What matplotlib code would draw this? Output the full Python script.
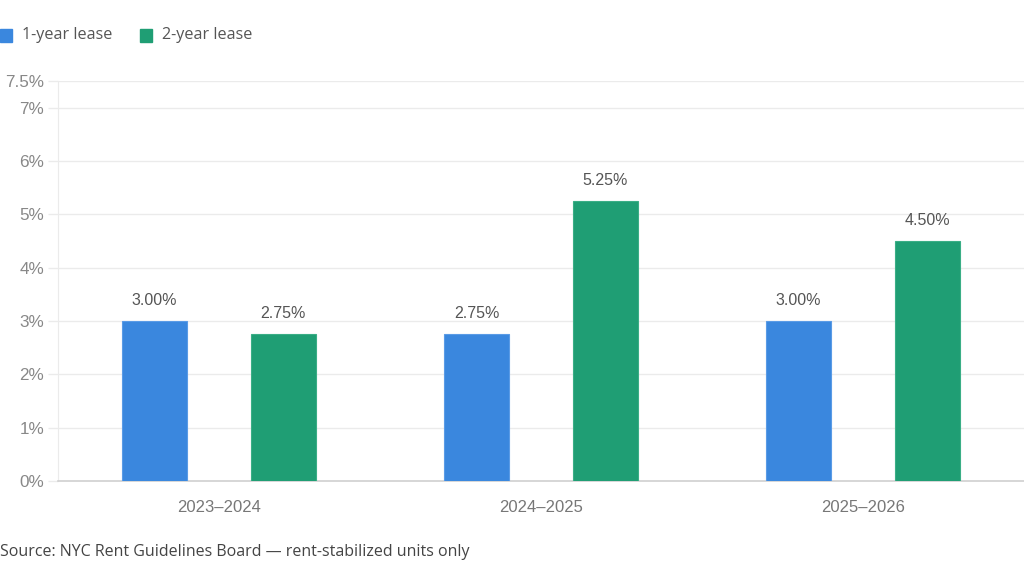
import matplotlib.pyplot as plt
import numpy as np

periods = ['2023–2024', '2024–2025', '2025–2026']
one_year = [3.00, 2.75, 3.00]
two_year = [2.75, 5.25, 4.50]
y_ticks = [0, 1, 2, 3, 4, 5, 6, 7, 7.5]
y_labels = ['0%', '1%', '2%', '3%', '4%', '5%', '6%', '7%', '7.5%']

blue = '#3a87de'
green = '#1f9e74'

fig = plt.figure(figsize=(10.24, 5.85), dpi=100)
ax = fig.add_axes([58 / 1024, 1 - 481 / 585, 1 - 58 / 1024, 400 / 585])

x = np.arange(len(periods))
w = 0.2
b1 = ax.bar(x - 0.2, one_year, w, color=blue, edgecolor='#5a9be6', linewidth=0.8, zorder=3)
b2 = ax.bar(x + 0.2, two_year, w, color=green, edgecolor='#3aae86', linewidth=0.8, zorder=3)

for bars in (b1, b2):
    for rect in bars:
        h = rect.get_height()
        ax.text(rect.get_x() + rect.get_width() / 2, h + 0.25, f'{h:.2f}%',
                ha='center', va='bottom', fontsize=11.5, color='#555555',
                family='Liberation Sans')

ax.set_xlim(-0.5, 2.5)
ax.set_ylim(0, 7.5)
ax.set_yticks(y_ticks)
ax.set_yticklabels(y_labels, family='Liberation Sans', fontsize=12.3, color='#888888')
ax.set_xticks(x)
ax.set_xticklabels(periods, family='Liberation Sans', fontsize=12, color='#777777')
ax.tick_params(axis='y', length=7, color='#ebebeb', width=1, pad=3)
ax.tick_params(axis='x', length=0, pad=14)
ax.grid(axis='y', color='#ebebeb', linewidth=1, zorder=0)
for s in ['top', 'right']:
    ax.spines[s].set_visible(False)
ax.spines['left'].set_color('#ebebeb')
ax.spines['bottom'].set_color('#d0d0d0')
ax.spines['bottom'].set_linewidth(1.2)

# legend
fig.patches.append(plt.Rectangle((0 / 1024, 1 - 42 / 585), 12 / 1024, 13 / 585,
                                 transform=fig.transFigure, color=blue, figure=fig))
fig.text(22 / 1024, 1 - 35 / 585, '1-year lease', va='center', fontsize=11.6,
         color='#555555', family='Open Sans')
fig.patches.append(plt.Rectangle((140 / 1024, 1 - 42 / 585), 12 / 1024, 13 / 585,
                                 transform=fig.transFigure, color=green, figure=fig))
fig.text(162 / 1024, 1 - 35 / 585, '2-year lease', va='center', fontsize=11.6,
         color='#555555', family='Open Sans')

fig.text(0, 1 - 552 / 585, 'Source: NYC Rent Guidelines Board — rent-stabilized units only',
         va='center', fontsize=11.5, color='#444444', family='Open Sans')

fig.savefig('out.png', dpi=100)
